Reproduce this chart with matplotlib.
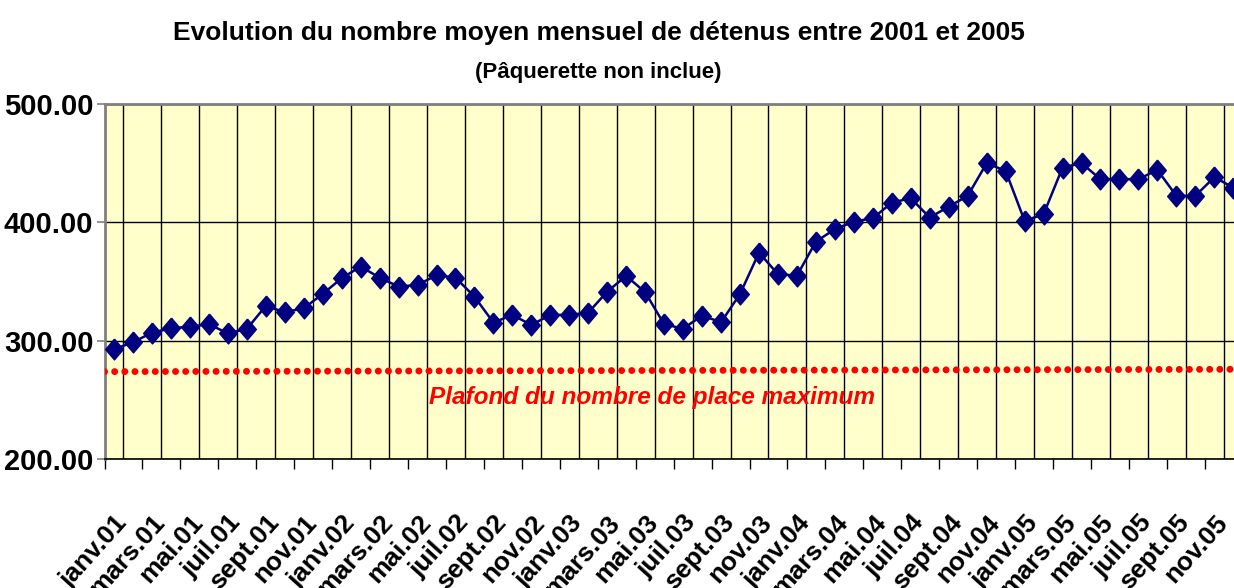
import matplotlib
matplotlib.use("Agg")
import matplotlib.pyplot as plt
import matplotlib.ticker as mticker
import numpy as np

# ---- data ----
annees = ["01", "02", "03", "04", "05"]
mois = ["janv.", "févr.", "mars.", "avr.", "mai.", "juin.",
        "juil.", "août.", "sept.", "oct.", "nov.", "déc."]
categories = [m + a for a in annees for m in mois]

detenus = [292.9, 298.8, 306.9, 310.6, 312.0, 314.0, 306.4, 310.0, 329.5, 324.2,
           327.5, 339.6, 352.9, 362.7, 353.4, 345.8, 347.2, 355.4, 353.4, 337.3,
           315.4, 321.9, 313.4, 321.9, 321.9, 323.8, 341.6, 354.8, 341.0, 314.0,
           310.3, 321.3, 315.7, 339.6, 374.5, 356.2, 355.1, 383.8, 394.3, 400.7,
           403.5, 416.7, 420.4, 404.1, 413.3, 422.4, 450.0, 443.5, 401.3, 406.9,
           446.3, 450.0, 436.5, 436.5, 436.5, 444.3, 422.4, 422.4, 438.2, 429.4]

plafond_debut = 274.0
plafond_fin = 276.0

y_ticks = [200, 300, 400, 500]

titre = "Evolution du nombre moyen mensuel de détenus entre 2001 et 2005"
sous_titre = "(Pâquerette non inclue)"
texte_plafond = "Plafond du nombre de place maximum"

# ---- style ----
FONT = ["Liberation Sans", "DejaVu Sans"]
NAVY = "#000080"
BG = "#FFFFCC"

fig = plt.figure(figsize=(12.34, 5.88), dpi=100)
ax = fig.add_axes([0.0847, 0.2189, 0.9224, 0.6043])
ax.set_facecolor(BG)

n = len(detenus)
x = np.arange(n)
ax.set_xlim(-0.5, n - 0.5)
ax.set_ylim(200, 500)

# plafond line (dotted red)
ax.plot([-0.5, n - 0.5], [plafond_debut, plafond_fin], color="#FF0000",
        lw=5.0, linestyle=(0, (0.01, 1.45)), dash_capstyle="round", zorder=3)

diamond = [(0, 1), (0.85, 0), (0, -1), (-0.85, 0), (0, 1)]
ax.plot(x, detenus, color=NAVY, lw=1.8, marker=diamond, markersize=15,
        markerfacecolor=NAVY, markeredgecolor=NAVY, zorder=4, clip_on=False)

ax.text(0.481, 0.175, texte_plafond, transform=ax.transAxes, ha="center",
        va="center", color="#FF0000", fontsize=17.6, fontweight="bold",
        fontstyle="italic", family=FONT, zorder=5)

# y axis
ax.set_yticks(y_ticks)
ax.yaxis.set_major_formatter(mticker.FormatStrFormatter("%.2f"))
ax.tick_params(axis="y", direction="out", length=6, width=1.2, color="#808080",
               pad=2, labelsize=21)
for lab in ax.get_yticklabels():
    lab.set_fontweight("bold")
    lab.set_family(FONT)
ax.yaxis.grid(True, color="black", lw=1.0, zorder=1)

# x axis: gridlines at category boundaries, tick marks every 2 categories
ax.set_xticks(np.arange(-0.5, n, 2))
ax.set_xticklabels([])
ax.set_xticks(np.arange(-0.5, n, 1), minor=True)
ax.tick_params(axis="x", which="major", direction="out", length=7.5, width=1.0,
               color="black")
ax.tick_params(axis="x", which="minor", length=0)
ax.xaxis.grid(True, which="minor", color="black", lw=1.0, zorder=1)
ax.set_axisbelow(True)

sec = ax.secondary_xaxis("bottom")
sec.set_xticks(x[::2])
sec.set_xticklabels(categories[::2])
sec.tick_params(length=0, pad=37)
sec.spines["bottom"].set_visible(False)
for lab in sec.get_xticklabels():
    lab.set_rotation(48)
    lab.set_ha("right")
    lab.set_va("top")
    lab.set_rotation_mode("anchor")
    lab.set_fontweight("bold")
    lab.set_fontsize(19)
    lab.set_family(FONT)

for s in ["top", "left", "right"]:
    ax.spines[s].set_color("#808080")
    ax.spines[s].set_linewidth(2.0)
ax.spines["bottom"].set_color("black")
ax.spines["bottom"].set_linewidth(1.2)

fig.text(0.4854, 0.944, titre, ha="center", va="center", fontsize=19,
         fontweight="bold", family=FONT)
fig.text(0.4846, 0.876, sous_titre, ha="center", va="center", fontsize=16,
         fontweight="bold", family=FONT)

fig.savefig("out.png", dpi=100, facecolor="white")
